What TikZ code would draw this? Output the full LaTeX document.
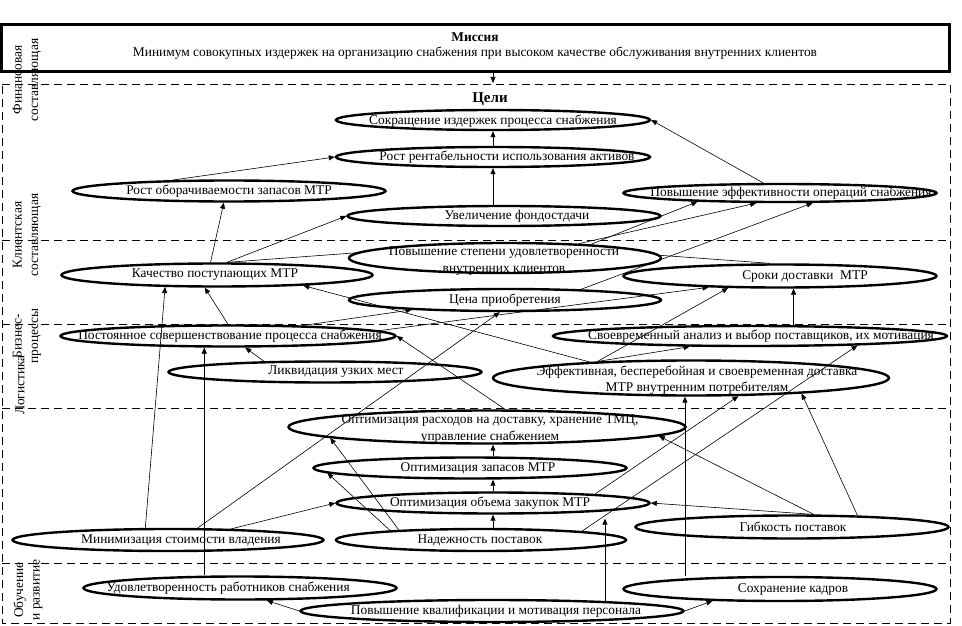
\documentclass[tikz,border=0pt]{standalone}
\usepackage{fontspec}
\setmainfont{Liberation Serif}
\usetikzlibrary{shapes.geometric,arrows.meta,calc}
\newcommand\fsz{\fontsize{13.4}{16.5}\selectfont}
\begin{document}
\begin{tikzpicture}[x=1pt,y=-1pt,
  el/.style={ellipse, draw, line width=2.4pt, inner sep=0pt},
  txt/.style={font=\fsz, inner sep=0pt, align=center},
  side/.style={font=\fsz, inner sep=0pt, align=center, rotate=90},
  arr/.style={-{Triangle[length=6pt,width=5pt]}, line width=0.6pt},
  ln/.style={line width=0.6pt},
  sep/.style={line width=0.7pt, dash pattern=on 8pt off 5pt}]
\useasboundingbox (0,0) rectangle (962,626);

% mission
\node[draw, line width=3.2pt, minimum width=948pt, minimum height=47pt, inner sep=0pt] (mission) at (475.5,48) {};
\node[txt, font=\fsz\bfseries] (mission-h) at (475,37) {Миссия};
\node[txt] (mission-t) at (475,53) {Минимум совокупных издержек на организацию снабжения при высоком качестве обслуживания внутренних клиентов};

% dashed frame and separators
\draw[sep] (2,84) -- (950,84) -- (950,623) -- (2,623) -- cycle;
\draw[sep] (2,240) -- (950,240);
\draw[sep] (2,324) -- (950,324);
\draw[sep] (2,408) -- (950,408);
\draw[sep] (2,563) -- (950,563);

% side labels
\node[side] (lab-fin) at (27,80) {Финансовая\\составляющая};
\node[side] (lab-kl) at (27,235) {Клиентская\\составляющая};
\node[side] (lab-log) at (20,385) {Логистика};
\node[side] (lab-bp) at (27,336) {Бизнес-\\процессы};
\node[side] (lab-ob) at (28,590) {Обучение\\и развитие};

\node[txt, font=\fontsize{15}{17}\selectfont\bfseries] (goals) at (490,99) {Цели};

% ellipses
\node[el, minimum width=314pt, minimum height=20pt] (sokr) at (493,120) {};
\node[el, minimum width=314pt, minimum height=20pt] (rent) at (493,157) {};
\node[el, minimum width=313pt, minimum height=21pt] (obor) at (229,191) {};
\node[el, minimum width=313pt, minimum height=20pt] (uvel) at (504,216) {};
\node[el, minimum width=313pt, minimum height=18pt] (effops) at (780,193) {};
\node[el, minimum width=312pt, minimum height=30pt] (povst) at (505,258) {};
\node[el, minimum width=311pt, minimum height=23pt] (kach) at (217,275) {};
\node[el, minimum width=313pt, minimum height=23pt] (sroki) at (780,276) {};
\node[el, minimum width=312pt, minimum height=22pt] (cena) at (505,300) {};
\node[el, minimum width=335pt, minimum height=21pt] (post) at (228,336) {};
\node[el, minimum width=313pt, minimum height=21pt] (likv) at (325,372) {};
\node[el, minimum width=394pt, minimum height=20pt] (svoe) at (750,336) {};
\node[el, minimum width=396pt, minimum height=35pt] (effd) at (691,378) {};
\node[el, minimum width=397pt, minimum height=33pt] (optr) at (487,427) {};
\node[el, minimum width=313pt, minimum height=21pt] (optz) at (470,468) {};
\node[el, minimum width=313pt, minimum height=21pt] (opto) at (493,503) {};
\node[el, minimum width=311pt, minimum height=22pt] (minim) at (168,540) {};
\node[el, minimum width=290pt, minimum height=22pt] (nadezh) at (481,540) {};
\node[el, minimum width=313pt, minimum height=23pt] (gibk) at (792,527) {};
\node[el, minimum width=313pt, minimum height=23pt] (udovl) at (240,588) {};
\node[el, minimum width=313pt, minimum height=24pt] (sohr) at (780,589) {};
\node[el, minimum width=383pt, minimum height=22pt] (povk) at (492,611) {};

% texts
\node[txt] (sokr-t) at (493,121) {Сокращение издержек процесса снабжения};
\node[txt] (rent-t) at (507,157) {Рост рентабельности использования активов};
\node[txt] (obor-t) at (229,191) {Рост оборачиваемости запасов МТР};
\node[txt] (uvel-t) at (517,216) {Увеличение фондостдачи};
\node[txt] (effops-t) at (791,193) {Повышение эффективности операций снабжения};
\node[txt] (povst-t) at (504,261) {Повышение степени удовлетворенности\\внутренних клиентов};
\node[txt] (kach-t) at (215,275) {Качество поступающих МТР};
\node[txt] (sroki-t) at (805,276) {Сроки доставки\ \ МТР};
\node[txt] (cena-t) at (505,300) {Цена приобретения};
\node[txt] (post-t) at (230,336) {Постоянное совершенствование процесса снабжения};
\node[txt] (likv-t) at (336,372) {Ликвидация узких мест};
\node[txt] (svoe-t) at (761,336) {Своевременный анализ и выбор поставщиков, их мотивация};
\node[txt] (effd-t) at (697,380) {Эффективная, бесперебойная и своевременная доставка\\МТР внутренним потребителям};
\node[txt] (optr-t) at (490,429) {Оптимизация расходов на доставку, хранение ТМЦ,\\управление снабжением};
\node[txt] (optz-t) at (478,468) {Оптимизация запасов МТР};
\node[txt] (opto-t) at (490,503) {Оптимизация объема закупок МТР};
\node[txt] (minim-t) at (181,540) {Минимизация стоимости владения};
\node[txt] (nadezh-t) at (480,540) {Надежность поставок};
\node[txt] (gibk-t) at (793,527) {Гибкость поставок};
\node[txt] (udovl-t) at (228,588) {Удовлетворенность работников снабжения};
\node[txt] (sohr-t) at (793,589) {Сохранение кадров};
\node[txt] (povk-t) at (496,611) {Повышение квалификации и мотивация персонала};

% connectors
\coordinate (mtip) at (493,83);
\draw[arr] (mission.south -| mtip) -- (mtip);
\draw[arr] (rent.north) -- (sokr.south);
\draw[arr] (effops.149) -- (sokr.east);
\draw[arr] (obor.169) -- (rent.west);
\draw[arr] (rent.south |- uvel.north) -- (rent.south);
\draw[arr] (kach.117.2) -- (obor.246.4);
\draw[arr] (kach.52.2) -- (uvel.west);
\draw[ln] (kach.50.4) -- (povst.178.5);
\draw[ln] (povst.1) -- (sroki.129.7);
\draw[arr] (povst.9) -- (effops.186.5);
\draw[arr] (povst.11) -- (effops.203.3);
\draw[arr] (cena.8.3) -- (effops.343.5);
\draw[arr] (effd.171) -- (kach.353);
\draw[arr] (post.2) -- (sroki.189.6);
\draw[arr] (effd.170.2) -- (sroki.193.3);
\draw[arr] (svoe.north -| sroki.-43.8) -- (sroki.-43.8);
\draw[arr] (effd.170) -- (svoe.190.5);
\draw[arr] (post.8.2) -- (cena.186.2);
\draw[arr] (minim.22.1) -- (cena.247.4);
\draw[arr] (minim.152.7) -- (kach.193.6);
\draw[arr] (post.north) -- (kach.226.1);
\draw[arr] (likv.170.3) -- (post.326.1);
\draw[arr] (udovl.north -| post.206.3) -- (post.206.3);
\draw[arr] (optr.44.1) -- (post.east);
\draw[arr] (optz.north -| opto.north) -- (optr.south -| opto.north);
\draw[arr] (opto.north) -- (optz.south -| opto.north);
\draw[arr] (nadezh.north -| opto.south) -- (opto.south);
\draw[arr] (nadezh.173.2) -- (optr.184.5);
\draw[arr] (nadezh.174.4) -- (optz.182);
\draw[arr] (minim.10.1) -- (opto.west);
\draw[arr] (nadezh.5.4) -- (svoe.355.2);
\draw[arr] (opto.5.5) -- (effd.339.9);
\draw[arr] (sohr.north -| effd.252) -- (effd.252);
\draw[arr] (gibk.10.7) -- (effd.352.7);
\draw[arr] (gibk.30.5) -- (optr.357.6);
\draw[arr] (gibk.30.5) -- (opto.east);
\draw[arr] (povk.east) -- (sohr.190.9);
\draw[arr, shorten >=4pt] (povk.5.1) -- (povk.5.1 |- opto.south);
\draw[arr] (povk.west) -- (udovl.335.5);
\end{tikzpicture}
\end{document}
